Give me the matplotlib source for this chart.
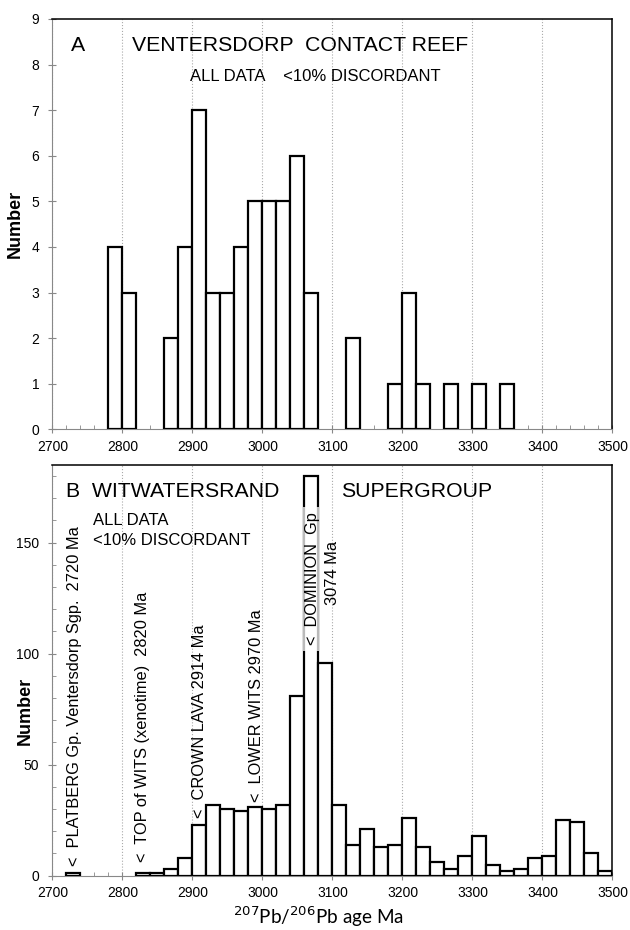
import numpy as np
import matplotlib
matplotlib.use('Agg')
import matplotlib.pyplot as plt
from matplotlib.ticker import MultipleLocator

plt.rcParams['font.family'] = ['Liberation Sans', 'DejaVu Sans']

# panel A: Ventersdorp Contact Reef, 20 Ma bins (left edges)
a_left = [2780, 2800, 2860, 2880, 2900, 2920, 2940, 2960, 2980, 3000, 3020,
          3040, 3060, 3120, 3180, 3200, 3220, 3260, 3300, 3340]
a_count = [4, 3, 2, 4, 7, 3, 3, 4, 5, 5, 5, 6, 3, 2, 1, 3, 1, 1, 1, 1]

# panel B: Witwatersrand Supergroup, 20 Ma bins (left edges)
b_left = [2720, 2820, 2840, 2860, 2880, 2900, 2920, 2940, 2960, 2980, 3000,
          3020, 3040, 3060, 3080, 3100, 3120, 3140, 3160, 3180, 3200, 3220,
          3240, 3260, 3280, 3300, 3320, 3340, 3360, 3380, 3400, 3420, 3440,
          3460, 3480]
b_count = [1, 1, 1, 3, 8, 23, 32, 30, 29, 31, 30, 32, 81, 180, 96, 32, 14,
           21, 13, 14, 26, 13, 6, 3, 9, 18, 5, 2, 3, 8, 9, 25, 24, 10, 2]

# vertical annotations in panel B: (x, y, text)
b_notes = [
    (2731, 4.5, '<  PLATBERG Gp. Ventersdorp Sgp.  2720 Ma'),
    (2829, 6, '<  TOP of WITS (xenotime)  2820 Ma'),
    (2910, 26, '<  CROWN LAVA 2914 Ma'),
    (2991, 33, '<  LOWER WITS 2970 Ma'),
    (3071, 104, '<  DOMINION  Gp'),
    (3100, 122, '3074 Ma'),
]

fig = plt.figure(figsize=(6.3, 9.3), dpi=100)
axA = fig.add_axes([0.0833, 0.5384, 0.8889, 0.4412])
axB = fig.add_axes([0.0833, 0.0584, 0.8889, 0.4416])


def style(ax):
    ax.set_xlim(2700, 3500)
    ax.xaxis.set_major_locator(MultipleLocator(100))
    ax.xaxis.set_minor_locator(MultipleLocator(20))
    ax.grid(axis='x', which='major', color='#aaaaaa', linestyle=':', linewidth=0.8)
    ax.set_axisbelow(True)
    for s in ['left', 'bottom']:
        ax.spines[s].set_color('#888888')
    for s in ['top', 'right']:
        ax.spines[s].set_color('black')
        ax.spines[s].set_linewidth(1.1)
    ax.tick_params(axis='both', which='major', direction='inout', length=6,
                   color='#888888', labelsize=10)
    ax.tick_params(axis='x', which='major', pad=4.5)
    ax.tick_params(axis='y', which='major', pad=6.5)
    ax.tick_params(axis='x', which='minor', direction='in', length=3, color='#888888')


axA.bar(a_left, a_count, width=20, align='edge', facecolor='white',
        edgecolor='black', linewidth=1.6, zorder=3)
style(axA)
axA.set_ylim(0, 9)
axA.yaxis.set_major_locator(MultipleLocator(1))
axA.set_ylabel('Number', fontsize=13, fontweight='bold')
axA.yaxis.set_label_coords(-0.051, 0.5)
axA.text(2727, 8.42, 'A', fontsize=15.3, va='center')
axA.text(2814, 8.42, 'VENTERSDORP  CONTACT REEF', fontsize=15.3, va='center')
axA.text(2896, 7.74, 'ALL DATA    <10% DISCORDANT', fontsize=12, va='center')

axB.bar(b_left, b_count, width=20, align='edge', facecolor='white',
        edgecolor='black', linewidth=1.6, zorder=3)
# break in the tall bar where the label sits
axB.fill_between([3060, 3080], 101, 166, facecolor='white', edgecolor='none', zorder=4)
axB.vlines([3060, 3080], 101, 166, colors='#bbbbbb', linewidth=1.6, zorder=4)
style(axB)
axB.set_ylim(0, 185)
axB.yaxis.set_major_locator(MultipleLocator(50))
axB.yaxis.set_minor_locator(MultipleLocator(10))
axB.tick_params(axis='y', which='minor', direction='in', length=3, color='#888888')
axB.set_ylabel('Number', fontsize=13, fontweight='bold')
axB.yaxis.set_label_coords(-0.033, 0.40)
axB.text(2720, 173, 'B  WITWATERSRAND', fontsize=15.3, va='center')
axB.text(3112, 173, 'SUPERGROUP', fontsize=15.3, va='center')
axB.text(2758, 160, 'ALL DATA', fontsize=12, va='center')
axB.text(2758, 151, '<10% DISCORDANT', fontsize=12, va='center')
for x, y, t in b_notes:
    axB.text(x, y, t, rotation=90, fontsize=11.8, ha='center', va='bottom', zorder=5)

axB.set_xlabel('$^{207}$Pb/$^{206}$Pb age Ma', fontsize=13.6, family=['Lato', 'DejaVu Sans'])
axB.xaxis.label.set_va('baseline')
axB.xaxis.set_label_coords(0.475, -0.118)

fig.savefig('out.png', dpi=100)
